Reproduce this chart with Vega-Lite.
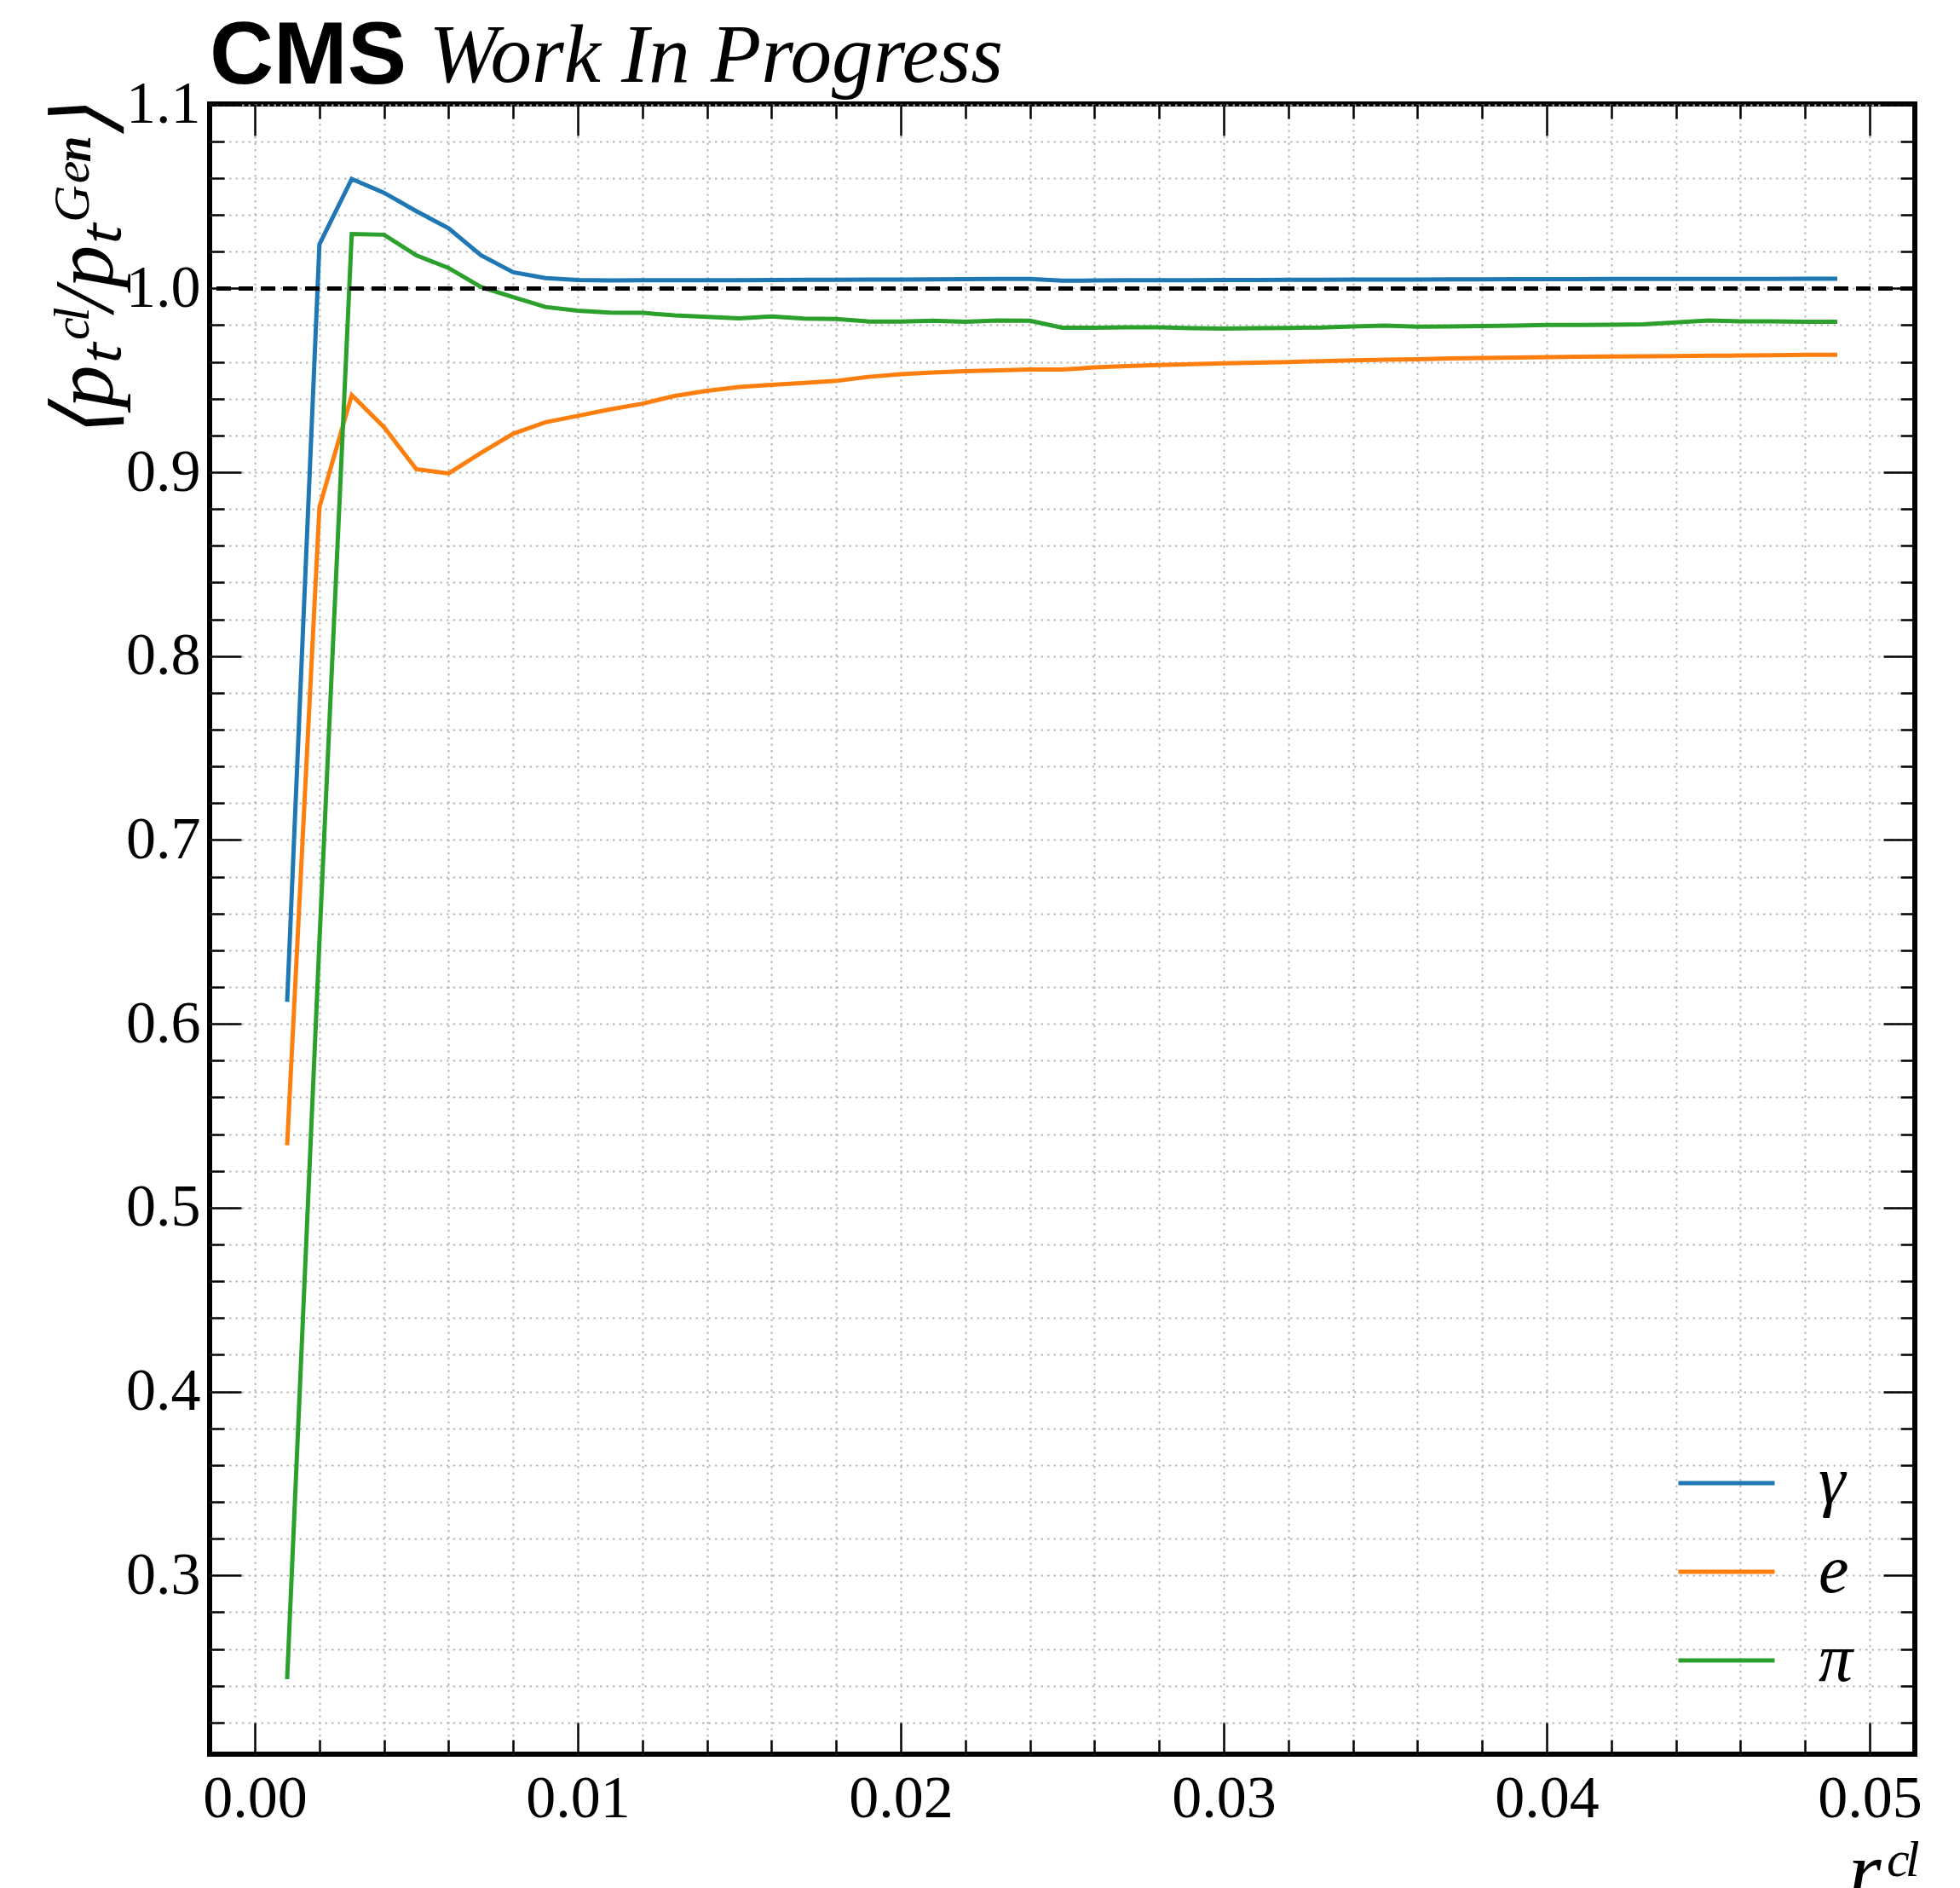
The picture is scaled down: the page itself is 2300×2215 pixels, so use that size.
{
 "$schema": "https://vega.github.io/schema/vega-lite/v6.json",
 "width": 2001,
 "height": 1936,
 "autosize": {"type": "none"},
 "padding": {"left": 246, "top": 122, "right": 53, "bottom": 157},
 "background": "white",
 "title": {"text": "CMS", "anchor": "start", "frame": "group", "font": "Liberation Sans", "fontWeight": "bold", "fontSize": 104, "color": "black", "offset": -185, "baseline": "alphabetic"},
 "config": {
  "view": {"stroke": "black", "strokeWidth": 6},
  "axis": {"domain": false, "tickColor": "black", "tickWidth": 2.5, "gridColor": "#b8b8b8", "gridDash": [2.5, 5], "gridWidth": 2, "labelFont": "Liberation Serif", "labelFontSize": 70, "labelColor": "black", "titleFont": "Liberation Serif", "titleFontStyle": "italic", "titleFontWeight": "normal", "titleColor": "black", "labelFlush": false, "labelOverlap": false}
 },
 "datasets": {
  "d": [
   {"x":0.001,"y":0.612,"s":"γ"},{"x":0.002,"y":1.024,"s":"γ"},{"x":0.003,"y":1.0595,"s":"γ"},{"x":0.004,"y":1.052,"s":"γ"},{"x":0.005,"y":1.042,"s":"γ"},{"x":0.006,"y":1.0327,"s":"γ"},{"x":0.007,"y":1.018,"s":"γ"},{"x":0.008,"y":1.0088,"s":"γ"},{"x":0.009,"y":1.0056,"s":"γ"},{"x":0.010,"y":1.0046,"s":"γ"},
   {"x":0.011,"y":1.0043,"s":"γ"},{"x":0.012,"y":1.0044,"s":"γ"},{"x":0.013,"y":1.0044,"s":"γ"},{"x":0.014,"y":1.0045,"s":"γ"},{"x":0.015,"y":1.0045,"s":"γ"},{"x":0.016,"y":1.0046,"s":"γ"},{"x":0.017,"y":1.0047,"s":"γ"},{"x":0.018,"y":1.0047,"s":"γ"},{"x":0.019,"y":1.0048,"s":"γ"},{"x":0.020,"y":1.0048,"s":"γ"},
   {"x":0.021,"y":1.0049,"s":"γ"},{"x":0.022,"y":1.005,"s":"γ"},{"x":0.023,"y":1.0051,"s":"γ"},{"x":0.024,"y":1.0052,"s":"γ"},{"x":0.025,"y":1.0042,"s":"γ"},{"x":0.026,"y":1.0043,"s":"γ"},{"x":0.027,"y":1.0044,"s":"γ"},{"x":0.028,"y":1.0045,"s":"γ"},{"x":0.029,"y":1.0045,"s":"γ"},{"x":0.030,"y":1.0046,"s":"γ"},
   {"x":0.031,"y":1.0046,"s":"γ"},{"x":0.032,"y":1.0047,"s":"γ"},{"x":0.033,"y":1.0047,"s":"γ"},{"x":0.034,"y":1.0048,"s":"γ"},{"x":0.035,"y":1.0048,"s":"γ"},{"x":0.036,"y":1.0048,"s":"γ"},{"x":0.037,"y":1.0049,"s":"γ"},{"x":0.038,"y":1.0049,"s":"γ"},{"x":0.039,"y":1.005,"s":"γ"},{"x":0.040,"y":1.005,"s":"γ"},
   {"x":0.041,"y":1.005,"s":"γ"},{"x":0.042,"y":1.0051,"s":"γ"},{"x":0.043,"y":1.0051,"s":"γ"},{"x":0.044,"y":1.0051,"s":"γ"},{"x":0.045,"y":1.0052,"s":"γ"},{"x":0.046,"y":1.0052,"s":"γ"},{"x":0.047,"y":1.0052,"s":"γ"},{"x":0.048,"y":1.0053,"s":"γ"},{"x":0.049,"y":1.0053,"s":"γ"},
   {"x":0.001,"y":0.534,"s":"e"},{"x":0.002,"y":0.881,"s":"e"},{"x":0.003,"y":0.942,"s":"e"},{"x":0.004,"y":0.9245,"s":"e"},{"x":0.005,"y":0.9017,"s":"e"},{"x":0.006,"y":0.8994,"s":"e"},{"x":0.007,"y":0.9105,"s":"e"},{"x":0.008,"y":0.921,"s":"e"},{"x":0.009,"y":0.9272,"s":"e"},{"x":0.010,"y":0.9307,"s":"e"},
   {"x":0.011,"y":0.9342,"s":"e"},{"x":0.012,"y":0.9373,"s":"e"},{"x":0.013,"y":0.9415,"s":"e"},{"x":0.014,"y":0.9443,"s":"e"},{"x":0.015,"y":0.9464,"s":"e"},{"x":0.016,"y":0.9475,"s":"e"},{"x":0.017,"y":0.9486,"s":"e"},{"x":0.018,"y":0.9497,"s":"e"},{"x":0.019,"y":0.9519,"s":"e"},{"x":0.020,"y":0.9533,"s":"e"},
   {"x":0.021,"y":0.9543,"s":"e"},{"x":0.022,"y":0.955,"s":"e"},{"x":0.023,"y":0.9554,"s":"e"},{"x":0.024,"y":0.9559,"s":"e"},{"x":0.025,"y":0.9559,"s":"e"},{"x":0.026,"y":0.957,"s":"e"},{"x":0.027,"y":0.9577,"s":"e"},{"x":0.028,"y":0.9583,"s":"e"},{"x":0.029,"y":0.9588,"s":"e"},{"x":0.030,"y":0.9592,"s":"e"},
   {"x":0.031,"y":0.9596,"s":"e"},{"x":0.032,"y":0.96,"s":"e"},{"x":0.033,"y":0.9604,"s":"e"},{"x":0.034,"y":0.9609,"s":"e"},{"x":0.035,"y":0.9612,"s":"e"},{"x":0.036,"y":0.9615,"s":"e"},{"x":0.037,"y":0.9619,"s":"e"},{"x":0.038,"y":0.9622,"s":"e"},{"x":0.039,"y":0.9624,"s":"e"},{"x":0.040,"y":0.9626,"s":"e"},
   {"x":0.041,"y":0.9628,"s":"e"},{"x":0.042,"y":0.963,"s":"e"},{"x":0.043,"y":0.9631,"s":"e"},{"x":0.044,"y":0.9632,"s":"e"},{"x":0.045,"y":0.9634,"s":"e"},{"x":0.046,"y":0.9635,"s":"e"},{"x":0.047,"y":0.9637,"s":"e"},{"x":0.048,"y":0.9639,"s":"e"},{"x":0.049,"y":0.9639,"s":"e"},
   {"x":0.001,"y":0.2436,"s":"π"},{"x":0.002,"y":0.645,"s":"π"},{"x":0.003,"y":1.0296,"s":"π"},{"x":0.004,"y":1.0292,"s":"π"},{"x":0.005,"y":1.018,"s":"π"},{"x":0.006,"y":1.0111,"s":"π"},{"x":0.007,"y":1.0008,"s":"π"},{"x":0.008,"y":0.9952,"s":"π"},{"x":0.009,"y":0.9899,"s":"π"},{"x":0.010,"y":0.9879,"s":"π"},
   {"x":0.011,"y":0.9868,"s":"π"},{"x":0.012,"y":0.9867,"s":"π"},{"x":0.013,"y":0.9853,"s":"π"},{"x":0.014,"y":0.9845,"s":"π"},{"x":0.015,"y":0.9837,"s":"π"},{"x":0.016,"y":0.9848,"s":"π"},{"x":0.017,"y":0.9836,"s":"π"},{"x":0.018,"y":0.9834,"s":"π"},{"x":0.019,"y":0.982,"s":"π"},{"x":0.020,"y":0.982,"s":"π"},
   {"x":0.021,"y":0.9824,"s":"π"},{"x":0.022,"y":0.9819,"s":"π"},{"x":0.023,"y":0.9825,"s":"π"},{"x":0.024,"y":0.9824,"s":"π"},{"x":0.025,"y":0.9786,"s":"π"},{"x":0.026,"y":0.9786,"s":"π"},{"x":0.027,"y":0.9788,"s":"π"},{"x":0.028,"y":0.9788,"s":"π"},{"x":0.029,"y":0.9784,"s":"π"},{"x":0.030,"y":0.9781,"s":"π"},
   {"x":0.031,"y":0.9784,"s":"π"},{"x":0.032,"y":0.9785,"s":"π"},{"x":0.033,"y":0.9787,"s":"π"},{"x":0.034,"y":0.9793,"s":"π"},{"x":0.035,"y":0.9798,"s":"π"},{"x":0.036,"y":0.9792,"s":"π"},{"x":0.037,"y":0.9793,"s":"π"},{"x":0.038,"y":0.9795,"s":"π"},{"x":0.039,"y":0.9798,"s":"π"},{"x":0.040,"y":0.9801,"s":"π"},
   {"x":0.041,"y":0.9801,"s":"π"},{"x":0.042,"y":0.9802,"s":"π"},{"x":0.043,"y":0.9805,"s":"π"},{"x":0.044,"y":0.9815,"s":"π"},{"x":0.045,"y":0.9825,"s":"π"},{"x":0.046,"y":0.9821,"s":"π"},{"x":0.047,"y":0.9821,"s":"π"},{"x":0.048,"y":0.9819,"s":"π"},{"x":0.049,"y":0.9819,"s":"π"}
  ]
 },
 "data": {"name": "d"},
 "layer": [
  {
   "mark": {"type": "line", "strokeWidth": 5},
   "encoding": {
    "x": {"field": "x", "type": "quantitative",
     "scale": {"domain": [-0.0014, 0.0514], "nice": false, "zero": false},
     "axis": {"orient": "bottom", "grid": true,
      "values": [0,0.002,0.004,0.006,0.008,0.01,0.012,0.014,0.016,0.018,0.02,0.022,0.024,0.026,0.028,0.03,0.032,0.034,0.036,0.038,0.04,0.042,0.044,0.046,0.048,0.05],
      "labelExpr": "abs(datum.value*100 - round(datum.value*100)) < 0.001 ? format(datum.value, '.2f') : ''",
      "tickSize": {"condition": {"test": "abs(datum.value*100 - round(datum.value*100)) < 0.001", "value": -37}, "value": -17},
      "labelPadding": 55,
      "title": "rᶜˡ", "titleAnchor": "end", "titleFontSize": 100, "titlePadding": -16}},
    "y": {"field": "y", "type": "quantitative",
     "scale": {"domain": [0.2028, 1.1003], "nice": false, "zero": false},
     "axis": {"orient": "left", "grid": true,
      "values": [0.22,0.24,0.26,0.28,0.3,0.32,0.34,0.36,0.38,0.4,0.42,0.44,0.46,0.48,0.5,0.52,0.54,0.56,0.58,0.6,0.62,0.64,0.66,0.68,0.7,0.72,0.74,0.76,0.78,0.8,0.82,0.84,0.86,0.88,0.9,0.92,0.94,0.96,0.98,1.0,1.02,1.04,1.06,1.08,1.1],
      "labelExpr": "abs(datum.value*10 - round(datum.value*10)) < 0.001 ? format(datum.value, '.1f') : ''",
      "tickSize": {"condition": {"test": "abs(datum.value*10 - round(datum.value*10)) < 0.001", "value": -37}, "value": -17},
      "labelPadding": 48,
      "title": "⟨pₜᶜˡ/pₜᴳᵉⁿ⟩", "titleAnchor": "end", "titleFontSize": 100, "titlePadding": -5}},
    "color": {"field": "s", "type": "nominal",
     "scale": {"domain": ["γ", "e", "π"], "range": ["#1f77b4", "#ff7f0e", "#2ca02c"]},
     "legend": {"orient": "none", "legendX": 1740, "legendY": 1578, "title": null, "symbolType": "M-2,0H2", "symbolSize": 3192, "symbolStrokeWidth": 5, "labelFont": "Liberation Serif", "labelFontStyle": "italic", "labelFontSize": 80, "labelOffset": 68, "rowPadding": 24, "padding": 0, "labelColor": "black"}}
   }
  },
  {
   "mark": {"type": "point", "opacity": 0},
   "encoding": {
    "x": {"field": "x", "type": "quantitative",
     "scale": {"domain": [-0.0014, 0.0514], "nice": false, "zero": false},
     "axis": {"orient": "top", "grid": false, "labels": false,
      "values": [0,0.002,0.004,0.006,0.008,0.01,0.012,0.014,0.016,0.018,0.02,0.022,0.024,0.026,0.028,0.03,0.032,0.034,0.036,0.038,0.04,0.042,0.044,0.046,0.048,0.05],
      "tickSize": {"condition": {"test": "abs(datum.value*100 - round(datum.value*100)) < 0.001", "value": -37}, "value": -17},
      "title": "Work In Progress", "titleFontSize": 97, "titleX": 257, "titleY": -27, "titleAlign": "left", "titleBaseline": "alphabetic", "titleAngle": 0}},
    "y": {"field": "y", "type": "quantitative",
     "scale": {"domain": [0.2028, 1.1003], "nice": false, "zero": false},
     "axis": {"orient": "right", "grid": false, "labels": false,
      "values": [0.22,0.24,0.26,0.28,0.3,0.32,0.34,0.36,0.38,0.4,0.42,0.44,0.46,0.48,0.5,0.52,0.54,0.56,0.58,0.6,0.62,0.64,0.66,0.68,0.7,0.72,0.74,0.76,0.78,0.8,0.82,0.84,0.86,0.88,0.9,0.92,0.94,0.96,0.98,1.0,1.02,1.04,1.06,1.08,1.1],
      "tickSize": {"condition": {"test": "abs(datum.value*10 - round(datum.value*10)) < 0.001", "value": -37}, "value": -17},
      "title": null}}
   }
  },
  {
   "mark": {"type": "rule", "strokeDash": [17, 9], "strokeWidth": 4.5, "color": "black"},
   "encoding": {
    "y": {"datum": 1, "type": "quantitative", "scale": {"domain": [0.2028, 1.1003], "nice": false, "zero": false}, "axis": null}
   }
  }
 ],
 "resolve": {"axis": {"x": "independent", "y": "independent"}}
}
